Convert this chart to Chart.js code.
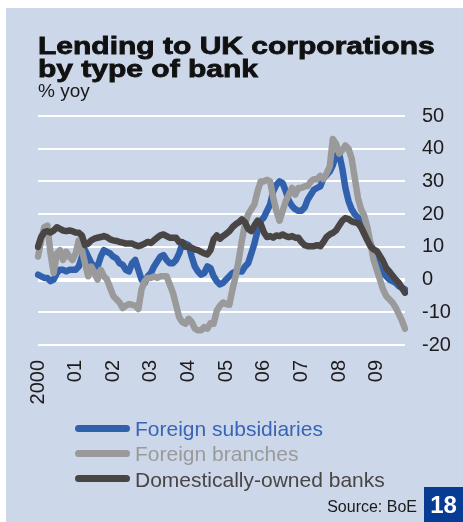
<!DOCTYPE html>
<html lang="en">
<head>
  <meta charset="UTF-8">
  <title>Lending to UK corporations by type of bank</title>
  <script src="https://cdn.jsdelivr.net/npm/chart.js"></script>
  <style>
    html, body { margin: 0; padding: 0; background: #ffffff; }
    body { width: 463px; height: 522px; position: relative; overflow: hidden;
           font-family: "Liberation Sans", Arial, Helvetica, sans-serif; }
    #panel { position: absolute; left: 6px; top: 8px; right: 0; bottom: 0; background: #ccd7e9; }
    #chart { position: absolute; left: 0; top: 0; }
    .title { position: absolute; left: 38px; font-weight: bold; font-size: 24px; line-height: 24px;
             color: #111; white-space: nowrap; transform: scaleX(1.25); transform-origin: 0 0;
             -webkit-text-stroke: 0.8px #111; }
    #unit { position: absolute; left: 38px; top: 81px; font-size: 19px; line-height: 19px; color: #1a1a1a; }
    .lg-line { position: absolute; left: 75px; width: 55px; height: 7px; border-radius: 4px; }
    .lg-text { position: absolute; left: 135px; font-size: 21px; line-height: 21px; white-space: nowrap; }
    #source { position: absolute; right: 46px; top: 499px; font-size: 16px; line-height: 16px; color: #1a1a1a; }
    #page { position: absolute; left: 424px; top: 487px; width: 39px; height: 35px; background: #063c94;
            color: #fff; font-weight: bold; font-size: 24px; line-height: 35px; text-align: center; }
  </style>
</head>
<body>
  <div id="panel"></div>
  <canvas id="chart" width="463" height="522"></canvas>
  <div class="title" style="top:34px">Lending to UK corporations</div>
  <div class="title" style="top:57px">by type of bank</div>
  <div id="unit">% yoy</div>

  <div class="lg-line" style="top:425px; background:#3160ad"></div>
  <div class="lg-text" style="top:418px; color:#3a64b4">Foreign subsidiaries</div>
  <div class="lg-line" style="top:450px; background:#9a9a9a"></div>
  <div class="lg-text" style="top:443px; color:#9a9a9a">Foreign branches</div>
  <div class="lg-line" style="top:475px; background:#4a4545"></div>
  <div class="lg-text" style="top:469px; color:#4a4545">Domestically-owned banks</div>

  <div id="source">Source: BoE</div>
  <div id="page">18</div>

  <script>
    // tick labels on the x axis (one per January)
    const years = ['2000', '01', '02', '03', '04', '05', '06', '07', '08', '09'];

    // monthly % yoy, Jan 2000 - Oct 2009
    const foreignSubsidiaries = [
      1.5, 1, 0.5, 0.5, -0.5, 0, 2, 3, 3, 2.5, 3, 3,
      3, 4, 7, 9, 7, 5, 4, 4, 7, 9, 8.5, 8,
      7, 6.5, 5, 4.5, 3, 2.5, 5, 6, 3, 0, -1, 1,
      2, 4, 5.5, 7, 7.5, 6, 5, 5, 6, 8, 11, 11,
      10.5, 7, 4, 2.5, 1.5, 2, 4, 3.5, 1, -0.5, -1.5, -1,
      0, 1, 2, 2.5, 2.5, 2.5, 4, 5, 8, 11, 15, 18,
      19, 21, 23, 27, 29, 30, 29.5, 27, 24, 22.5, 21.5, 21,
      21, 22, 24.5, 26, 27.5, 28, 28.5, 31, 32, 33, 35, 38,
      38.5, 34, 28, 24, 21.5, 20, 19, 17.5, 16, 13, 11, 8,
      5, 3, 2, 1, 0, -0.5, -1, -2, -2.5, -3
    ];

    const foreignBranches = [
      7, 12, 16, 16.5, 8, 2, 8, 9, 6, 8.5, 7, 6,
      8, 12, 9, 5, 1, 4, 2, 0, 3, 1, 0, -2.5,
      -5, -6, -7, -8.7, -8, -7.5, -7.7, -8, -9, -3, -0.5, 0.5,
      0.5, 1, 0.5, 1, 1, 1, -1.5, -4, -7.7, -11.5, -13, -13.5,
      -12, -13, -15, -15.5, -15.5, -14.5, -15, -13.3, -13.5, -9.5, -8, -7,
      -7.5, -7.7, -3, 1, 6, 12, 17, 20, 21.5, 23, 27, 30,
      30, 30.5, 30, 25, 21, 18, 21, 24, 26, 28, 26, 28,
      28, 28.5, 28.6, 30, 30.7, 30.7, 31.7, 30.7, 32.5, 34.5, 43, 41.5,
      38.5, 39.5, 41, 40, 37, 31, 25, 21.5, 19.5, 16, 11, 6,
      3, 0, -3, -5, -6, -7, -8.5, -10.5, -12.5, -15
    ];

    const domesticBanks = [
      10, 13, 14.5, 14.8, 14.4, 15, 16, 15.5, 15, 14.8, 15, 14.8,
      14.4, 14.3, 13.5, 10.5, 11, 12, 12.5, 12.8, 13, 13.3, 13, 12.3,
      12, 11.8, 11.5, 11.3, 11, 11, 11, 10.5, 10.2, 10.5, 11, 11.5,
      11.2, 12, 12.8, 13.5, 13.8, 13.3, 12.8, 12.8, 12.8, 11.5, 11.5, 10,
      10, 9.7, 9.2, 9, 8.5, 8, 7.7, 9, 12.3, 13.5, 12.5, 13.3,
      14, 14.8, 16, 16.9, 17.5, 18.4, 17.5, 15.5, 14.8, 16.5, 18, 17,
      14.5, 13, 13.3, 12.8, 13.5, 13.3, 13.8, 13.3, 13, 13.3, 12.8, 12.8,
      11.5, 10.5, 10.2, 10.2, 10.2, 10.5, 10.2, 11.5, 13, 13.8, 14.3, 15,
      16.5, 18, 18.8, 18.5, 17.8, 17.5, 17.3, 16, 14, 12, 10.2, 9.2,
      8.7, 7.2, 5.6, 3.5, 2.5, 1.2, 0, -1, -2.5, -4
    ];

    // one category per month; the year label only on January
    const months = [];
    years.forEach(y => { for (let m = 0; m < 12; m++) months.push(m === 0 ? y : ''); });
    months.length = domesticBanks.length;

    const ctx = document.getElementById('chart').getContext('2d');
    const tickFont = { family: '"Liberation Sans", Arial, sans-serif', size: 20 };

    function lineSet(label, data, color) {
      return {
        label: label,
        data: data,
        borderColor: color,
        borderWidth: 6.5,
        pointRadius: 0,
        tension: 0,
        borderCapStyle: 'round',
        borderJoinStyle: 'round',
        fill: false
      };
    }

    new Chart(ctx, {
      type: 'line',
      data: {
        labels: months,
        // first dataset is painted on top
        datasets: [
          lineSet('Domestically-owned banks', domesticBanks, '#4a4545'),
          lineSet('Foreign branches', foreignBranches, '#9a9a9a'),
          lineSet('Foreign subsidiaries', foreignSubsidiaries, '#3160ad')
        ]
      },
      options: {
        responsive: false,
        animation: false,
        layout: { padding: { left: 38, top: 116, right: 8, bottom: 107 } },
        plugins: { legend: { display: false }, tooltip: { enabled: false } },
        scales: {
          x: {
            offset: false,
            grid: { display: false, drawTicks: false },
            border: { display: false },
            ticks: {
              autoSkip: false,
              minRotation: 90,
              maxRotation: 90,
              padding: 15,
              color: '#1f1b1b',
              font: tickFont,
              callback: function (value, index) { return months[index] === '' ? null : months[index]; }
            },
            afterFit: s => { s.height = 70; }
          },
          y: {
            position: 'right',
            min: -20,
            max: 50,
            grid: {
              color: '#ffffff',
              lineWidth: c => (c.tick && c.tick.value === 0 ? 4 : 2),
              drawTicks: false
            },
            border: { display: false },
            ticks: { stepSize: 10, padding: 17, color: '#1f1b1b', font: tickFont },
            afterFit: s => { s.width = 50; }
          }
        }
      }
    });
  </script>
</body>
</html>
